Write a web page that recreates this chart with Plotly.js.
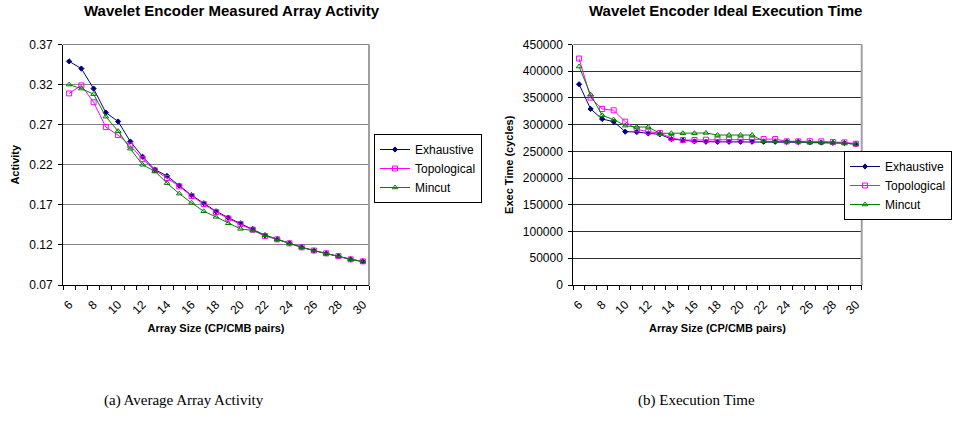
<!DOCTYPE html>
<html>
<head>
<meta charset="utf-8">
<script src="https://cdn.plot.ly/plotly-3.0.1.min.js"></script>
<style>
  html, body { margin: 0; padding: 0; background: #fff; overflow: hidden; }
  #chart { width: 953px; height: 425px; }
</style>
</head>
<body>
<div id="chart"></div>
<script>
// ---- data ----
const arraySizes = [6,7,8,9,10,11,12,13,14,15,16,17,18,19,20,21,22,23,24,25,26,27,28,29,30];
const xTickLabels = [6,8,10,12,14,16,18,20,22,24,26,28,30];

const activityExhaustive = [0.349,0.340,0.315,0.285,0.274,0.249,0.230,0.214,0.206,0.194,0.182,0.172,0.162,0.154,0.147,0.140,0.132,0.127,0.122,0.117,0.113,0.1095,0.106,0.102,0.0995];
const activityTopological = [0.309,0.319,0.298,0.267,0.257,0.244,0.227,0.213,0.2035,0.193,0.181,0.171,0.161,0.153,0.146,0.139,0.131,0.127,0.122,0.117,0.113,0.1095,0.106,0.102,0.0995];
const activityMincut = [0.320,0.315,0.308,0.280,0.262,0.240,0.220,0.212,0.197,0.184,0.1725,0.162,0.155,0.147,0.140,0.138,0.132,0.127,0.122,0.117,0.113,0.109,0.106,0.102,0.099];

const timeExhaustive = [375600,329400,310600,305600,286900,286250,283750,281900,273100,270600,268750,268000,268000,268000,268000,268000,268000,268000,268000,267500,267000,266500,266000,265500,263500];
const timeTopological = [423750,350600,329400,326900,305600,291250,286900,284400,275000,271250,271250,271900,271900,271900,271900,271900,273100,273100,268750,268750,269000,268750,267500,266900,264400];
const timeMincut = [408750,356250,317500,309400,298100,295600,295600,283750,284000,284000,284000,284500,280600,280600,280600,280600,268750,268750,268750,268750,266250,266250,266250,265600,263100];

const seriesNames = ["Exhaustive","Topological","Mincut"];
const titleLeft = "Wavelet Encoder Measured Array Activity";
const titleRight = "Wavelet Encoder Ideal Execution Time";
const xTitle = "Array Size (CP/CMB pairs)";
const yTitleLeft = "Activity";
const yTitleRight = "Exec Time (cycles)";
const captionLeft = "(a) Average Array Activity";
const captionRight = "(b) Execution Time";

// ---- styles ----
const FONT = "Liberation Sans, Arial, sans-serif";
const SERIF = "Liberation Serif, Times New Roman, serif";
const styles = [
  {color: "#000080", symbol: "diamond", size: 4},
  {color: "#FF00FF", symbol: "square-open", size: 5},
  {color: "#008000", symbol: "triangle-up-open", size: 5}
];

function mk(y, i, xa, ya, leg) {
  return {
    x: arraySizes, y: y, name: seriesNames[i], type: "scatter", mode: "lines+markers",
    xaxis: xa, yaxis: ya, legend: leg,
    line: {color: styles[i].color, width: 1},
    marker: {color: styles[i].color, symbol: styles[i].symbol, size: styles[i].size,
             line: {color: styles[i].color, width: 1}}
  };
}

const traces = [
  mk(activityExhaustive, 0, "x", "y", "legend"),
  mk(activityTopological, 1, "x", "y", "legend"),
  mk(activityMincut, 2, "x", "y", "legend"),
  mk(timeExhaustive, 0, "x2", "y2", "legend2"),
  mk(timeTopological, 1, "x2", "y2", "legend2"),
  mk(timeMincut, 2, "x2", "y2", "legend2")
];

const W = 953, H = 425;
const yDom = [1 - 285/H, 1 - 44.5/H];

function xAxis(domain, anchor) {
  return {
    domain: domain, anchor: anchor,
    range: [arraySizes[0] - 0.5, arraySizes[arraySizes.length-1] + 0.5],
    tickmode: "array", tickvals: xTickLabels, ticktext: xTickLabels.map(String),
    ticks: "", tickangle: -45, ticklabelstandoff: 7,
    tickfont: {family: FONT, size: 12, color: "#000"},
    minor: {tick0: 5.5, dtick: 1, ticks: "outside", ticklen: 4, tickcolor: "#000", tickwidth: 1, showgrid: false},
    showgrid: false, zeroline: false,
    showline: true, linecolor: "#000", linewidth: 1,
    title: {text: "<b>" + xTitle + "</b>", font: {family: FONT, size: 11, color: "#000"}, standoff: 8},
    automargin: false, fixedrange: true
  };
}

function yAxis(domain, anchor, range, dtick, tick0, title, gridcolor) {
  return {
    domain: domain, anchor: anchor, range: range, tick0: tick0, dtick: dtick, tickmode: "linear",
    exponentformat: "none", separatethousands: false,
    ticks: "outside", ticklen: 4, tickcolor: "#000", ticklabelstandoff: 3,
    tickfont: {family: FONT, size: 12, color: "#000"},
    showgrid: true, gridcolor: gridcolor, gridwidth: 1, zeroline: false,
    showline: true, linecolor: "#000", linewidth: 1,
    title: {text: "<b>" + title + "</b>", font: {family: FONT, size: 11, color: "#000"}, standoff: 7},
    automargin: false, fixedrange: true
  };
}

const legendBase = {
  yanchor: "top",
  bordercolor: "#000", borderwidth: 1, bgcolor: "#fff",
  font: {family: FONT, size: 12, color: "#000"}, itemwidth: 30, tracegroupgap: 0
};

const layout = {
  width: W, height: H,
  margin: {l: 0, r: 0, t: 0, b: 0},
  paper_bgcolor: "#fff", plot_bgcolor: "#fff",
  font: {family: FONT, size: 11, color: "#000"},
  xaxis: xAxis([63/W, 369/W], "y"),
  yaxis: yAxis(yDom, "x", [0.07, 0.37], 0.05, 0.07, yTitleLeft, "#808080"),
  xaxis2: xAxis([573.3/W, 861.7/W], "y2"),
  yaxis2: Object.assign(yAxis(yDom, "x2", [0, 450000], 50000, 0, yTitleRight, "#303030"), {tickformat: "d"}),
  legend: Object.assign({x: 374/W, xanchor: "left", y: 1 - 134/H}, legendBase),
  legend2: Object.assign({x: 952/W, xanchor: "right", y: 1 - 151/H}, legendBase),
  showlegend: true,
  shapes: [
    {type: "line", xref: "x domain", yref: "y domain", x0: 0, x1: 1, y0: 1, y1: 1, line: {color: "#808080", width: 1}},
    {type: "line", xref: "x domain", yref: "y domain", x0: 1, x1: 1, y0: 0, y1: 1, line: {color: "#a0a0a0", width: 2}},
    {type: "line", xref: "x2 domain", yref: "y2 domain", x0: 0, x1: 1, y0: 1, y1: 1, line: {color: "#808080", width: 1}},
    {type: "line", xref: "x2 domain", yref: "y2 domain", x0: 1, x1: 1, y0: 0, y1: 1, line: {color: "#a0a0a0", width: 2}}
  ],
  annotations: [
    {text: "<b>" + titleLeft + "</b>", xref: "paper", yref: "paper", x: 232/W, y: 1 - 10/H,
     xanchor: "center", yanchor: "middle", showarrow: false, font: {family: FONT, size: 15, color: "#000"}},
    {text: "<b>" + titleRight + "</b>", xref: "paper", yref: "paper", x: 725/W, y: 1 - 10/H,
     xanchor: "center", yanchor: "middle", showarrow: false, font: {family: FONT, size: 15, color: "#000"}},
    {text: captionLeft, xref: "paper", yref: "paper", x: 184/W, y: 1 - 400/H,
     xanchor: "center", yanchor: "middle", showarrow: false, font: {family: SERIF, size: 15, color: "#000"}},
    {text: captionRight, xref: "paper", yref: "paper", x: 696/W, y: 1 - 400/H,
     xanchor: "center", yanchor: "middle", showarrow: false, font: {family: SERIF, size: 15, color: "#000"}}
  ]
};

Plotly.newPlot("chart", traces, layout, {staticPlot: true, displayModeBar: false});
</script>
</body>
</html>
